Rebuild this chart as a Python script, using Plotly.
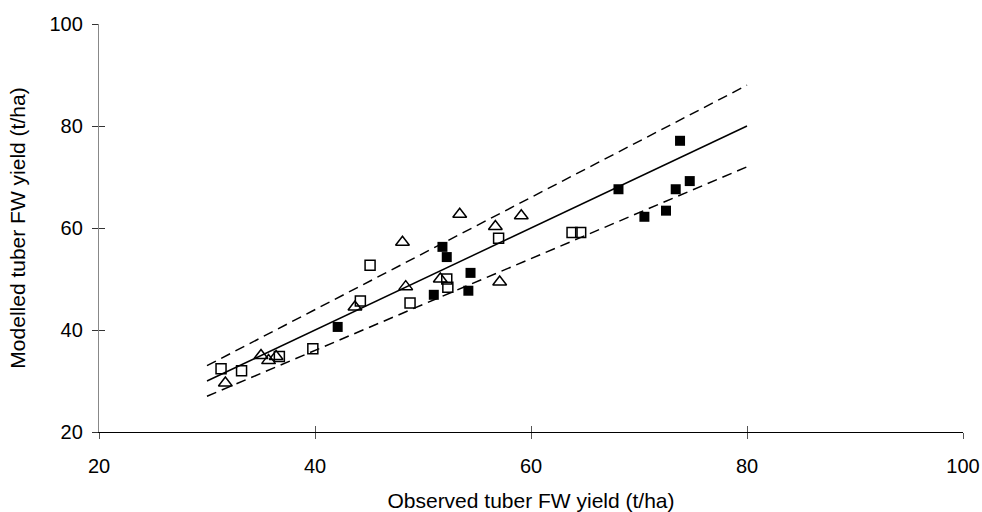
import plotly.graph_objects as go

# Open squares
sq_open_x = [31.3, 33.2, 36.7, 39.8, 44.2, 45.1, 48.8, 52.2, 52.3, 57.0, 63.8, 64.6]
sq_open_y = [32.4, 32.0, 34.8, 36.3, 45.7, 52.7, 45.3, 50.0, 48.4, 58.0, 59.1, 59.1]

# Open triangles
tri_x = [31.7, 35.0, 35.7, 36.4, 43.7, 48.1, 48.4, 51.6, 53.4, 56.7, 57.1, 59.1]
tri_y = [29.6, 35.0, 34.0, 34.8, 44.5, 57.2, 48.5, 50.0, 62.7, 60.3, 49.4, 62.4]

# Filled squares
sq_fill_x = [42.1, 51.0, 51.8, 52.2, 54.2, 54.4, 68.1, 70.5, 72.5, 73.4, 73.8, 74.7]
sq_fill_y = [40.6, 46.9, 56.3, 54.3, 47.7, 51.2, 67.6, 62.2, 63.4, 67.6, 77.1, 69.2]

# 1:1 line and +/-10% bounds
line_x = [30, 80]
line_y = [30, 80]
upper_y = [33, 88]
lower_y = [27, 72]

tick_vals = [20, 40, 60, 80, 100]
x_title = "Observed tuber FW yield (t/ha)"
y_title = "Modelled tuber FW yield (t/ha)"

FONT = "Liberation Sans, Arial, sans-serif"

fig = go.Figure()

fig.add_trace(go.Scatter(x=line_x, y=upper_y, mode="lines",
                         line=dict(color="black", width=1.5, dash="10px,6px"),
                         showlegend=False, hoverinfo="skip"))
fig.add_trace(go.Scatter(x=line_x, y=lower_y, mode="lines",
                         line=dict(color="black", width=1.5, dash="10px,6px"),
                         showlegend=False, hoverinfo="skip"))
fig.add_trace(go.Scatter(x=line_x, y=line_y, mode="lines",
                         line=dict(color="black", width=1.5),
                         showlegend=False, hoverinfo="skip"))

fig.add_trace(go.Scatter(x=sq_open_x, y=sq_open_y, mode="markers",
                         marker=dict(symbol="square-open", size=10, color="black",
                                     line=dict(width=1.5, color="black")),
                         showlegend=False))
fig.add_trace(go.Scatter(x=tri_x, y=tri_y, mode="markers",
                         marker=dict(symbol="triangle-up-open", size=12, color="black",
                                     line=dict(width=1.5, color="black")),
                         showlegend=False))
fig.add_trace(go.Scatter(x=sq_fill_x, y=sq_fill_y, mode="markers",
                         marker=dict(symbol="square", size=10, color="black",
                                     line=dict(width=0, color="black")),
                         showlegend=False))

# dummy trace to activate inside-tick overlay axes
fig.add_trace(go.Scatter(x=[None], y=[None], xaxis="x2", yaxis="y2",
                         showlegend=False, hoverinfo="skip"))

axis_common = dict(range=[20, 100], tickvals=tick_vals, showgrid=False,
                   zeroline=False, automargin=False)

fig.update_layout(
    width=982, height=512,
    margin=dict(l=99, r=19, t=24, b=80),
    paper_bgcolor="white", plot_bgcolor="white",
    font=dict(family=FONT, size=20, color="black"),
    xaxis=dict(**axis_common, showline=True, linecolor="black", linewidth=1.3,
               ticks="outside", ticklen=6, tickcolor="#555555", tickwidth=1,
               ticklabelstandoff=10, tickfont=dict(size=20),
               title=dict(text=x_title, standoff=24, font=dict(size=21))),
    yaxis=dict(**axis_common, showline=True, linecolor="#888888", linewidth=1.3,
               ticks="outside", ticklen=6, tickcolor="#333333", tickwidth=1,
               ticklabelstandoff=5, tickfont=dict(size=20),
               title=dict(text=y_title, standoff=18, font=dict(size=21))),
    xaxis2=dict(**axis_common, overlaying="x", anchor="y2", side="bottom",
                showline=False, ticks="inside", ticklen=6, tickcolor="#555555",
                tickwidth=1, showticklabels=False),
    yaxis2=dict(**axis_common, overlaying="y", anchor="x2", side="left",
                showline=False, ticks="inside", ticklen=6, tickcolor="#333333",
                tickwidth=1, showticklabels=False),
)

fig.write_html("out.html")
